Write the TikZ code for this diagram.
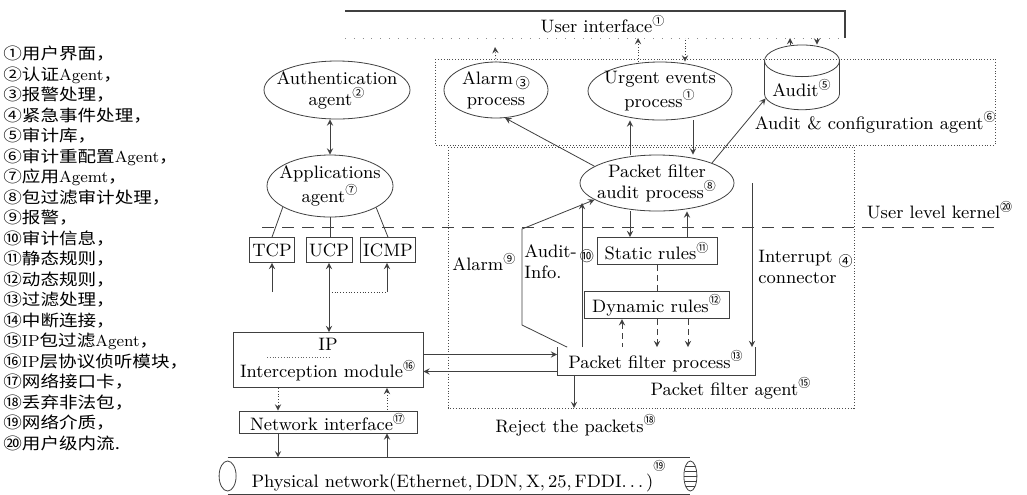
\documentclass[tikz,border=0pt]{standalone}
\usepackage{fontspec}
\newfontfamily\cjk{Noto Sans CJK SC}
\newfontfamily\cjkwide[FakeStretch=1.16]{Noto Sans CJK SC}
\usetikzlibrary{shapes.geometric}
\newcommand\nb[1]{\textsuperscript{\cjk #1}}
\newcommand\nbl[1]{\raisebox{-0.5ex}{\cjk\scriptsize #1}}

\begin{document}
\begin{tikzpicture}[x=0.5pt,y=-0.5pt,>=stealth,
  every node/.style={font=\fontsize{9}{10.5}\selectfont,inner sep=1pt},
  proc/.style={ellipse,draw=black!75,thin,align=center,inner xsep=-5pt,inner ysep=-2pt},
  rbox/.style={draw=black!75,thin,inner sep=1.5pt},
  agent/.style={draw=black!70,densely dotted,thin},
  con/.style={draw=black!75,thin}]
\fill [white] (0,0) rectangle (1027,494);
\useasboundingbox (0,0) rectangle (1027,494);

% legend
\node [anchor=north west,align=left,inner sep=0pt,font=\cjkwide\fontsize{8}{10.24}\selectfont] (legend) at (3,46)
  {①用户界面，\\②认证\textrm{Agent}，\\③报警处理，\\④紧急事件处理，\\⑤审计库，\\⑥审计重配置\textrm{Agent}，\\⑦应用\textrm{Agemt}，\\⑧包过滤审计处理，\\⑨报警，\\⑩审计信息，\\⑪静态规则，\\⑫动态规则，\\⑬过滤处理，\\⑭中断连接，\\⑮\textrm{IP}包过滤\textrm{Agent}，\\⑯\textrm{IP}层协议侦听模块，\\⑰网络接口卡，\\⑱丢弃非法包，\\⑲网络介质，\\⑳用户级内流.};

% user interface
\node (ui) at (603,24) {User interface\nb{①}};
\draw [con,semithick] (345,11) -- (845,11) -- (845,38);
\draw [black!45,loosely dotted] (345,38) -- (845,38);
\coordinate (uib) at (0,38);

% agents and the kernel line
\draw [agent] (435,59) rectangle (995,145);
\node [anchor=east] (acfg) at (999,122) {Audit \& configuration agent\nb{⑥}};
\draw [agent] (448,147) rectangle (854,408);
\node (pfag) at (731,388) {Packet filter agent\nb{⑮}};
\draw [black!75,dash pattern=on 6pt off 4pt] (262,227) -- (998,227);
\node (ulk) at (940,210) {User level kernel\nb{⑳}};

% processes
\node [proc,minimum width=73pt,minimum height=29pt] (auth) at (337,90) {Authentication\\agent\nb{②}};
\node [proc,minimum width=52pt,minimum height=28pt] (alarm) at (496,90) {Alarm\,\nbl{③}\\process};
\node [proc,minimum width=72pt,minimum height=29pt] (urgent) at (660,91) {Urgent events\\process\nb{①}};
\node [cylinder,shape border rotate=90,draw=black!75,thin,aspect=0.5,minimum height=23pt,minimum width=37.5pt] (audit) at (802,88) {Audit\nb{⑤}};
\node [proc,minimum width=63pt,minimum height=31pt] (apps) at (330,186) {Applications\\agent\nb{⑦}};
\node [proc,minimum width=77pt,minimum height=28pt] (pfa) at (657,183) {Packet filter\\audit process\nb{⑧}};

% boxes
\node [rbox,minimum width=20.5pt,minimum height=12.5pt] (tcp) at (272,250) {TCP};
\node [rbox,minimum width=21pt,minimum height=12.5pt] (ucp) at (329,250) {UCP};
\node [rbox,minimum width=25pt,minimum height=12.5pt] (icmp) at (388,250) {ICMP};
\node [rbox,minimum width=60pt,minimum height=13.5pt] (static) at (657,251) {Static rules\nb{⑪}};
\node [rbox,minimum width=72.5pt,minimum height=12.5pt] (dynamic) at (657,305) {Dynamic rules\nb{⑫}};
\node [minimum width=98.5pt,minimum height=13.5pt] (pfp) at (656,361) {Packet filter process\nb{⑬}};
\draw [con] (pfp.north west) |- (pfp.south east) -- (pfp.north east);
\node [rbox,minimum width=95pt,minimum height=27.5pt,align=center] (ip) at (328,360) {IP\\[3pt]Interception module\nb{⑯}};
\draw [black!60,densely dotted] (267,357) -- (330,357);
\node [rbox,minimum width=89pt,minimum height=11pt,inner ysep=0.5pt] (nic) at (328,422) {Network interface\nb{⑰}};
\node [minimum width=231pt,minimum height=15pt] (phys) at (459,476) {Physical network(Ethernet,\,DDN,\,X,\,25,\,FDDI.\,.\,.\,)\raisebox{5pt}{\nb{⑲}}};
\draw [con] (phys.north west) -- (phys.north east);
\draw [con] (phys.south west) -- (phys.south east);
\draw [con] (phys.west) ellipse [x radius=4.25pt,y radius=7.5pt];
\draw [con,fill=white] (phys.east) ellipse [x radius=3.25pt,y radius=7.5pt];
\foreach \k/\w in {-5/2.3,-2.5/2.9,0/3.1,2.5/2.9,5/2.3}
  \draw [con] ([xshift=-\w pt,yshift=\k pt]phys.east) -- ([xshift=\w pt,yshift=\k pt]phys.east);

% labels
\node [anchor=west] (alarmlbl) at (450,262) {Alarm\nb{⑨}};
\node [anchor=west,align=left] (ainfo) at (522,262) {Audit-\,\nbl{⑩}\\Info.};
\node [anchor=west,align=left] (intc) at (756,267) {Interrupt\ \nbl{④}\\connector};
\node (reject) at (576,425) {Reject the packets\nb{⑱}};

% free ends
\coordinate (eA) at (638,0);
\coordinate (eB) at (685,0);
\coordinate (uA) at (630,0);
\coordinate (uB) at (693,0);
\coordinate (sB) at (687,0);
\coordinate (alup) at (495,47);
\coordinate (aitop) at (582,203);
\coordinate (ala) at (522,325);
\coordinate (alb) at (522,229);
\coordinate (inttop) at (752,183);
\coordinate (rj) at (574,408);
\coordinate (tin) at (272,292);
\coordinate (iin) at (387,292);

% connectors
\draw [con,->,densely dotted] (alarm.north) -- (alup);
\draw [con,->,densely dotted] (eA |- urgent.north) -- (eA |- uib);
\draw [con,<-,densely dotted] (eB |- urgent.north) -- (eB |- uib);
\draw [con,->] ([xshift=-6pt]audit.north) -- ([xshift=-6pt]audit.north |- uib);
\draw [con,<-] ([xshift=7.5pt]audit.north) -- ([xshift=7.5pt]audit.north |- uib);
\draw [con,<->] (auth.south -| apps.north) -- (apps.north);
\draw [con] (apps.-156) -- (tcp.north);
\draw [con] (apps.south) -- (apps.south |- ucp.north);
\draw [con] (apps.-25) -- (icmp.north);
\draw [con,->] (tin) -- (tcp.south);
\draw [con,<->] (ucp.south) -- (ucp.south |- ip.north);
\draw [con,->] (iin) -- (iin |- icmp.south);
\draw [con,densely dotted] (ucp.south |- iin) -- (iin);
\draw [con,->] (pfa.165) -- (alarm.-72);
\draw [con,->] (uA |- pfa.north) -- (uA |- urgent.south);
\draw [con,<-] (uB |- pfa.north) -- (uB |- urgent.south);
\draw [con,->] (pfa.20) -- (audit.196);
\draw [con,->] (uA |- pfa.south) -- (uA |- static.north);
\draw [con,<-] (sB |- pfa.south) -- (sB |- static.north);
\draw [con,densely dashed] (static.south) -- (dynamic.north);
\draw [con,<-,densely dashed] ([xshift=-17.5pt]dynamic.south) -- ([xshift=-17.5pt]dynamic.south |- pfp.north);
\draw [con,->,densely dashed] (dynamic.south) -- (dynamic.south |- pfp.north);
\draw [con,->,densely dashed] ([xshift=15.5pt]dynamic.south) -- ([xshift=15.5pt]dynamic.south |- pfp.north);
\draw [con,->] (aitop |- pfp.north) -- (aitop);
\draw [con,->] ([xshift=5pt]pfp.north west) -- (ala) -- (alb) -- (pfa.195);
\draw [con,->] (inttop) -- (inttop |- pfp.north);
\draw [con,->] (rj |- pfp.south) -- (rj);
\draw [con,->] ([yshift=2.75pt]ip.east) -- ([yshift=2.75pt]ip.east -| pfp.west);
\draw [con,<-] ([yshift=-5.75pt]ip.east) -- ([yshift=-5.75pt]ip.east -| pfp.west);
\draw [con,->,densely dotted] ([xshift=-25pt]ip.south) -- ([xshift=-25pt]nic.north);
\draw [con,<-,densely dotted] ([xshift=29.5pt]ip.south) -- ([xshift=29.5pt]nic.north);
\draw [con,->] ([xshift=-25pt]nic.south) -- ([xshift=-25pt]nic.south |- phys.north);
\draw [con,<-] ([xshift=29.5pt]nic.south) -- ([xshift=29.5pt]nic.south |- phys.north);
\end{tikzpicture}
\end{document}
